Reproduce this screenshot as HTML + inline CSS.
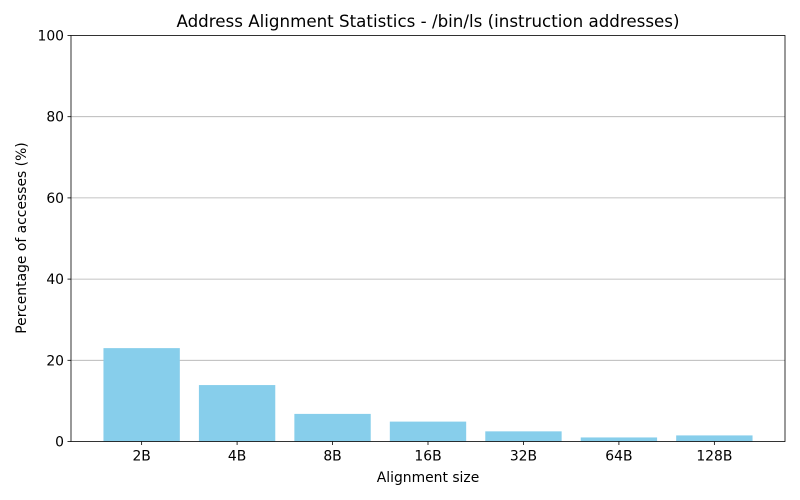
<!DOCTYPE html>
<html><head><meta charset="utf-8"><style>
body{margin:0;background:#fff;font-family:"Liberation Sans","DejaVu Sans",sans-serif;overflow:hidden}
svg{display:block}
svg text{font-family:"DejaVu Sans","Liberation Sans",sans-serif;fill:#000}
</style></head><body>
<svg id="chart" width="800" height="500" xmlns="http://www.w3.org/2000/svg">
<rect width="800" height="500" fill="#fff"/>
<g id="grid"></g><g id="bars"></g><g id="axes"></g>
<text x="428" y="27" text-anchor="middle" font-size="16.7">Address Alignment Statistics - /bin/ls (instruction addresses)</text>
<text x="428" y="482" text-anchor="middle" font-size="13.9">Alignment size</text>
<text transform="translate(26,238) rotate(-90)" text-anchor="middle" font-size="13.9">Percentage of accesses (%)</text>
</svg>
<script>
const categories=["2B","4B","8B","16B","32B","64B","128B"];
const values=[23.0,13.9,6.8,4.9,2.5,1.0,1.5];
const yTicks=[0,20,40,60,80,100];
const L=71,R=785,T=35.5,B=441.5;
const xMin=-0.74,xMax=6.74;
const xs=i=>L+(i-xMin)/(xMax-xMin)*(R-L);
const ys=v=>B-v/100*(B-T);
const ns="http://www.w3.org/2000/svg";
function mk(t,a,p){const e=document.createElementNS(ns,t);for(const k in a)e.setAttribute(k,a[k]);p.appendChild(e);return e;}
const grid=document.getElementById('grid'),bars=document.getElementById('bars'),axes=document.getElementById('axes');
yTicks.forEach(t=>{
  const y=ys(t);
  if(t>0&&t<100){const g=mk('line',{x1:L,x2:R,y1:y,y2:y,stroke:'#b0b0b0','stroke-width':0.8},grid);
  
  }
  mk('line',{x1:L-3.5,x2:L,y1:y,y2:y,stroke:'#000','stroke-width':0.8},axes);
  const tx=mk('text',{x:L-7,y:y+5,'text-anchor':'end','font-size':13.9},axes);tx.textContent=t;
  
  
});
const bw=0.8*(R-L)/(xMax-xMin);
categories.forEach((c,i)=>{
  const x=xs(i);
  const r=mk('rect',{x:x-bw/2,y:ys(values[i]),width:bw,height:B-ys(values[i]),fill:'#87ceeb'},bars);
  
  
  mk('line',{x1:x,x2:x,y1:B,y2:B+3.5,stroke:'#000','stroke-width':0.8},axes);
  const tx=mk('text',{x:x,y:B+19,'text-anchor':'middle','font-size':13.9},axes);tx.textContent=c;
  
  
});
const f=mk('rect',{x:L,y:T,width:R-L,height:B-T,fill:'none',stroke:'#000','stroke-width':0.8},axes);


</script>
</body></html>
